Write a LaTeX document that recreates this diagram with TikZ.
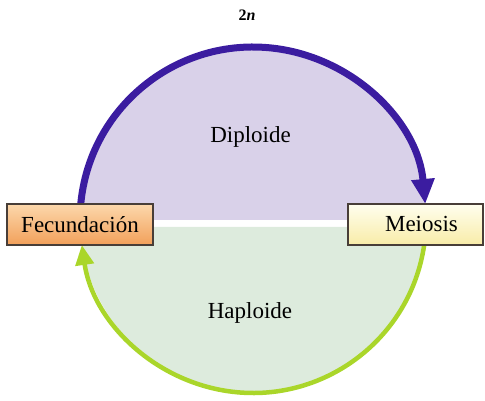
\documentclass[tikz,border=0pt]{standalone}
\usepackage{fontspec}
\setmainfont{Liberation Serif}
\usepackage{xcolor}
\usepackage{tikz}
\usetikzlibrary{shapes,arrows,arrows.meta,positioning,calc}
\definecolor{dipviolet}{RGB}{59,28,160}
\definecolor{diplight}{RGB}{217,209,233}
\definecolor{hapgreen}{RGB}{170,214,42}
\definecolor{haplight}{RGB}{221,235,221}
\definecolor{fectop}{RGB}{252,216,172}
\definecolor{fecbot}{RGB}{242,160,90}
\definecolor{meitop}{RGB}{255,254,238}
\definecolor{meibot}{RGB}{248,236,168}
\definecolor{boxline}{RGB}{72,62,56}

\begin{document}
\begin{tikzpicture}[x=1pt, y=1pt,
    phase/.style={rectangle, draw=boxline, line width=1.4pt, minimum height=41pt, inner sep=0pt, text centered, font=\fontsize{23}{26}\selectfont},
    stagetext/.style={anchor=base, font=\fontsize{23}{26}\selectfont},
    diparrow/.style={-{Triangle[length=25pt, width=22pt]}, draw=dipviolet, line width=7pt},
    haparrow/.style={-{Triangle[length=20pt, width=18pt]}, draw=hapgreen, line width=4.5pt}]
  \useasboundingbox (0,0) rectangle (485,401);
  \coordinate (c) at (253,181);
  \fill[diplight] ([shift={(0:173)}]c) arc[start angle=0, end angle=180, radius=173] -- cycle;
  \fill[haplight] ([shift={(-2.3:173)}]c) arc[start angle=-2.3, end angle=-177.7, radius=173] -- cycle;
  \node[stagetext] (dip) at (250.5,258) {Diploide};
  \node[stagetext] (hap) at (250,82) {Haploide};
  \node[anchor=base, font=\fontsize{16}{18}\selectfont] (ploidy) at (247,380) {\textbf{2\textit{n}}};
  \draw[diparrow] ([shift={(174.7:173)}]c) arc[start angle=174.7, end angle=5.3, radius=173];
  \draw[haparrow] ([shift={(-8.3:173)}]c) arc[start angle=-8.3, end angle=-171.7, radius=173];
  \node[phase, minimum width=146pt, top color=fectop, bottom color=fecbot] (fec) at (80,176.5) {Fecundación};
  \node[phase, minimum width=135pt, top color=meitop, bottom color=meibot] (mei) at (415.5,176.5) {\hspace{12pt}Meiosis};
\end{tikzpicture}
\end{document}
